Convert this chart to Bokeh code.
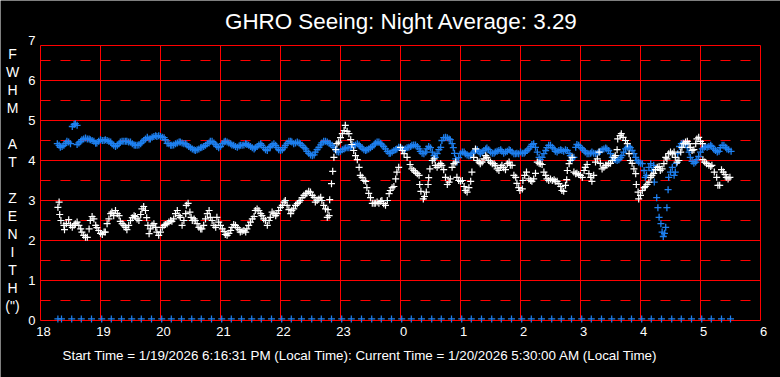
from bokeh.plotting import figure
from bokeh.models import Label, Range1d
from bokeh.core.properties import value
from bokeh.embed import file_html
from bokeh.resources import INLINE

title_text = "GHRO Seeing: Night Average: 3.29"
footer_text = ("Start Time = 1/19/2026 6:16:31 PM (Local Time): "
               "Current Time = 1/20/2026 5:30:00 AM (Local Time)")
axis_letters = ["F", "W", "H", "M", "", "A", "T", "", "Z", "E", "N", "I", "T", "H", "(\")"]

x_ticks = [18, 19, 20, 21, 22, 23, 24, 25, 26, 27, 28, 29, 30]
x_tick_labels = ["18", "19", "20", "21", "22", "23", "0", "1", "2", "3", "4", "5", "6"]
y_ticks = [0, 1, 2, 3, 4, 5, 6, 7]
grid_top = 6.875

# blue series (hours after midnight continue as 24+)
blue_t = [
    18.28, 18.31, 18.33, 18.36, 18.39, 18.42, 18.44, 18.47, 18.50, 18.53, 18.56, 18.58, 18.61, 18.61,
    18.64, 18.67, 18.69, 18.72, 18.75, 18.78, 18.81, 18.83, 18.86, 18.89, 18.92, 18.94, 18.97,
    19.00, 19.03, 19.06, 19.08, 19.11, 19.14, 19.17, 19.19, 19.22, 19.25, 19.28, 19.31, 19.33, 19.36,
    19.39, 19.42, 19.44, 19.47, 19.50, 19.53, 19.56, 19.58, 19.61, 19.64, 19.67, 19.69, 19.72, 19.75,
    19.78, 19.81, 19.83, 19.86, 19.89, 19.92, 19.94, 19.97,
    20.00, 20.03, 20.06, 20.08, 20.11, 20.14, 20.17, 20.19, 20.22, 20.25, 20.28, 20.31, 20.33, 20.36,
    20.39, 20.42, 20.44, 20.47, 20.50, 20.53, 20.56, 20.58, 20.61, 20.64, 20.67, 20.69, 20.72, 20.75,
    20.78, 20.81, 20.83, 20.86, 20.89, 20.92, 20.94, 20.97,
    21.00, 21.03, 21.06, 21.08, 21.11, 21.14, 21.17, 21.19, 21.22, 21.25, 21.28, 21.31, 21.33, 21.36,
    21.39, 21.42, 21.44, 21.47, 21.50, 21.53, 21.56, 21.58, 21.61, 21.64, 21.67, 21.69, 21.72, 21.75,
    21.78, 21.81, 21.83, 21.86, 21.89, 21.92, 21.94, 21.97,
    22.00, 22.03, 22.06, 22.08, 22.11, 22.14, 22.17, 22.19, 22.22, 22.25, 22.28, 22.31, 22.33, 22.36,
    22.39, 22.42, 22.44, 22.47, 22.50, 22.53, 22.56, 22.58, 22.61, 22.64, 22.67, 22.69, 22.72, 22.75,
    22.78, 22.81, 22.83, 22.86, 22.89, 22.92, 22.94, 22.97,
    23.00, 23.03, 23.06, 23.08, 23.11, 23.14, 23.17, 23.19, 23.22, 23.25, 23.28, 23.31, 23.33, 23.36,
    23.39, 23.42, 23.44, 23.47, 23.50, 23.53, 23.56, 23.58, 23.61, 23.64, 23.67, 23.69, 23.72, 23.75,
    23.78, 23.81, 23.83, 23.86, 23.89, 23.92, 23.94, 23.97,
    24.00, 24.03, 24.06, 24.08, 24.11, 24.14, 24.17, 24.19, 24.22, 24.25, 24.28, 24.31, 24.33, 24.36,
    24.39, 24.42, 24.44, 24.47, 24.50, 24.53, 24.56, 24.58, 24.61, 24.64, 24.67, 24.69, 24.72, 24.75,
    24.78, 24.81, 24.83, 24.86, 24.88, 24.90, 24.92, 24.94, 24.97,
    25.00, 25.03, 25.06, 25.08, 25.11, 25.14, 25.17, 25.19, 25.22, 25.25, 25.28, 25.31, 25.33, 25.36,
    25.39, 25.42, 25.44, 25.47, 25.50, 25.53, 25.56, 25.58, 25.61, 25.64, 25.67, 25.69, 25.72, 25.75,
    25.78, 25.81, 25.83, 25.86, 25.89, 25.92, 25.94, 25.97,
    26.00, 26.03, 26.06, 26.08, 26.11, 26.14, 26.17, 26.19, 26.22, 26.25, 26.28, 26.31, 26.33, 26.36,
    26.39, 26.42, 26.44, 26.47, 26.50, 26.53, 26.56, 26.58, 26.61, 26.64, 26.67, 26.69, 26.72, 26.75,
    26.78, 26.81, 26.83, 26.86, 26.89, 26.92, 26.94, 26.97,
    27.00, 27.03, 27.06, 27.08, 27.11, 27.14, 27.17, 27.19, 27.22, 27.25, 27.28, 27.31, 27.33, 27.36,
    27.39, 27.42, 27.44, 27.47, 27.50, 27.53, 27.56, 27.58, 27.61, 27.64, 27.67, 27.69, 27.72, 27.75,
    27.78, 27.81, 27.83, 27.86, 27.89, 27.92, 27.94, 27.97,
    28.00, 28.03, 28.06, 28.08, 28.10, 28.14, 28.17, 28.19, 28.22, 28.23, 28.27, 28.29, 28.31, 28.34,
    28.36, 28.38, 28.40, 28.42, 28.44, 28.46, 28.47, 28.50, 28.53, 28.56, 28.58, 28.60, 28.62, 28.65,
    28.68, 28.71, 28.75, 28.78, 28.81, 28.83, 28.86, 28.89, 28.92, 28.94, 28.97,
    29.00, 29.03, 29.06, 29.08, 29.11, 29.14, 29.17, 29.19, 29.22, 29.25, 29.28, 29.31, 29.33, 29.36,
    29.39, 29.42, 29.44, 29.47, 29.51,
]
blue_v = [
    4.42, 4.38, 4.33, 4.35, 4.38, 4.43, 4.48, 4.46, 4.42, 4.85, 4.90, 4.92, 4.88, 4.40,
    4.44, 4.48, 4.52, 4.54, 4.56, 4.54, 4.54, 4.52, 4.50, 4.48, 4.43, 4.44, 4.48,
    4.52, 4.50, 4.50, 4.52, 4.50, 4.48, 4.46, 4.42, 4.38, 4.35, 4.38, 4.42, 4.46, 4.48,
    4.48, 4.48, 4.48, 4.46, 4.46, 4.42, 4.39, 4.38, 4.38, 4.39, 4.42, 4.46, 4.50, 4.54,
    4.58, 4.54, 4.54, 4.58, 4.60, 4.62, 4.60, 4.62,
    4.60, 4.58, 4.57, 4.52, 4.43, 4.42, 4.38, 4.38, 4.39, 4.42, 4.44, 4.46, 4.46, 4.44,
    4.42, 4.42, 4.39, 4.35, 4.32, 4.29, 4.27, 4.25, 4.27, 4.29, 4.32, 4.33, 4.35, 4.38,
    4.42, 4.44, 4.48, 4.48, 4.44, 4.40, 4.35, 4.32,
    4.35, 4.42, 4.46, 4.48, 4.46, 4.44, 4.42, 4.39, 4.38, 4.35, 4.33, 4.36, 4.38, 4.38,
    4.39, 4.42, 4.40, 4.38, 4.35, 4.32, 4.29, 4.32, 4.35, 4.39, 4.42, 4.38, 4.32, 4.27,
    4.25, 4.32, 4.35, 4.39, 4.42, 4.38, 4.32, 4.27,
    4.25, 4.27, 4.32, 4.38, 4.43, 4.48, 4.48, 4.46, 4.42, 4.44, 4.46, 4.44, 4.42, 4.38,
    4.33, 4.29, 4.23, 4.18, 4.14, 4.12, 4.14, 4.21, 4.27, 4.33, 4.39, 4.44, 4.48, 4.48,
    4.46, 4.43, 4.42, 4.38, 4.33, 4.27, 4.22, 4.21,
    4.23, 4.27, 4.29, 4.31, 4.32, 4.32, 4.33, 4.35, 4.38, 4.39, 4.42, 4.39, 4.35, 4.31,
    4.27, 4.25, 4.27, 4.29, 4.32, 4.35, 4.39, 4.43, 4.46, 4.46, 4.43, 4.39, 4.35, 4.29,
    4.23, 4.18, 4.18, 4.21, 4.25, 4.27, 4.29, 4.33,
    4.32, 4.29, 4.27, 4.29, 4.32, 4.33, 4.35, 4.38, 4.39, 4.39, 4.35, 4.29, 4.23, 4.18,
    4.17, 4.21, 4.29, 4.35, 4.32, 4.21, 4.12, 4.08, 4.17, 4.27, 4.33, 4.50, 4.57, 4.58,
    4.57, 4.54, 4.52, 4.42, 4.32, 4.18, 4.04, 3.96, 4.07,
    4.17, 4.21, 4.21, 4.17, 4.14, 4.12, 4.12, 4.17, 4.21, 4.25, 4.27, 4.22, 4.17, 4.21,
    4.25, 4.29, 4.31, 4.27, 4.21, 4.18, 4.18, 4.21, 4.23, 4.25, 4.27, 4.23, 4.18, 4.21,
    4.23, 4.27, 4.25, 4.21, 4.17, 4.17, 4.18, 4.17,
    4.21, 4.18, 4.18, 4.21, 4.25, 4.29, 4.35, 4.40, 4.42, 4.33, 4.21, 4.08, 4.02, 4.08,
    4.17, 4.25, 4.32, 4.38, 4.38, 4.33, 4.29, 4.23, 4.21, 4.25, 4.27, 4.25, 4.23, 4.27,
    4.25, 4.18, 4.12, 4.04, 4.08, 4.33, 4.40, 4.38,
    4.33, 4.29, 4.25, 4.21, 4.17, 4.17, 4.18, 4.21, 4.18, 4.17, 4.18, 4.21, 4.23, 4.27,
    4.29, 4.31, 4.29, 4.25, 4.17, 4.08, 4.04, 4.02, 4.00, 4.02, 4.07, 4.12, 4.21, 4.29,
    4.33, 4.35, 4.32, 4.25, 4.17, 4.08, 4.00, 3.96,
    3.93, 3.92, 3.75, 3.58, 3.63, 3.83, 3.92, 3.75, 3.88, 3.46, 3.07, 2.82, 2.58, 2.42,
    2.21, 2.10, 2.18, 2.33, 2.82, 3.27, 3.58, 3.71, 3.83, 3.63, 3.71, 3.93, 4.17, 4.35,
    4.42, 4.44, 4.40, 4.32, 4.21, 4.08, 3.98, 3.93, 3.96, 4.02, 4.10,
    4.21, 4.29, 4.33, 4.35, 4.33, 4.35, 4.38, 4.35, 4.29, 4.25, 4.21, 4.23, 4.32, 4.38,
    4.38, 4.33, 4.29, 4.27, 4.23,
]

# white series
white_t = [
    18.29, 18.31, 18.32, 18.34, 18.39, 18.40, 18.43, 18.47, 18.50, 18.53, 18.56, 18.58, 18.61, 18.64,
    18.67, 18.69, 18.72, 18.75, 18.78, 18.81, 18.83, 18.86, 18.89, 18.92, 18.94, 18.97,
    19.00, 19.03, 19.06, 19.08, 19.11, 19.14, 19.17, 19.19, 19.22, 19.25, 19.28, 19.31, 19.33, 19.36,
    19.39, 19.42, 19.44, 19.47, 19.50, 19.53, 19.56, 19.58, 19.61, 19.64, 19.67, 19.69, 19.72, 19.75,
    19.77, 19.79, 19.81, 19.83, 19.86, 19.89, 19.92, 19.94, 19.97,
    20.00, 20.03, 20.06, 20.08, 20.11, 20.14, 20.17, 20.19, 20.22, 20.25, 20.28, 20.31, 20.33, 20.36,
    20.39, 20.42, 20.43, 20.46, 20.49, 20.51, 20.53, 20.56, 20.58, 20.61, 20.64, 20.67, 20.69, 20.72,
    20.75, 20.78, 20.81, 20.83, 20.86, 20.89, 20.92, 20.94, 20.97,
    21.00, 21.03, 21.06, 21.08, 21.11, 21.14, 21.17, 21.19, 21.22, 21.25, 21.28, 21.31, 21.33, 21.36,
    21.39, 21.42, 21.44, 21.47, 21.50, 21.53, 21.56, 21.58, 21.61, 21.64, 21.67, 21.69, 21.72, 21.75,
    21.78, 21.81, 21.83, 21.86, 21.89, 21.92, 21.94, 21.97,
    22.00, 22.03, 22.06, 22.08, 22.11, 22.14, 22.17, 22.19, 22.22, 22.25, 22.28, 22.31, 22.33, 22.36,
    22.39, 22.42, 22.44, 22.47, 22.50, 22.53, 22.56, 22.58, 22.61, 22.64, 22.67, 22.69, 22.72, 22.75,
    22.78, 22.79, 22.81, 22.82, 22.85, 22.87, 22.89, 22.92, 22.94, 22.97,
    23.00, 23.03, 23.06, 23.08, 23.11, 23.14, 23.17, 23.19, 23.22, 23.25, 23.28, 23.31, 23.33, 23.36,
    23.39, 23.42, 23.44, 23.47, 23.50, 23.53, 23.56, 23.58, 23.61, 23.64, 23.67, 23.69, 23.72, 23.75,
    23.78, 23.81, 23.83, 23.86, 23.89, 23.92, 23.94, 23.97,
    24.00, 24.03, 24.06, 24.11, 24.16, 24.19, 24.22, 24.25, 24.28, 24.31, 24.32, 24.34, 24.38, 24.40,
    24.43, 24.46, 24.47, 24.49, 24.53, 24.56, 24.58, 24.61, 24.64, 24.67, 24.69, 24.72, 24.75, 24.78,
    24.81, 24.83, 24.86, 24.89, 24.92, 24.94, 24.97,
    25.00, 25.03, 25.06, 25.08, 25.11, 25.14, 25.17, 25.19, 25.22, 25.25, 25.28, 25.31, 25.33, 25.36,
    25.39, 25.42, 25.44, 25.47, 25.50, 25.53, 25.56, 25.58, 25.61, 25.64, 25.67, 25.69, 25.72, 25.75,
    25.78, 25.81, 25.83, 25.86, 25.89, 25.92, 25.94, 25.97, 25.99,
    26.03, 26.04, 26.07, 26.10, 26.14, 26.17, 26.19, 26.22, 26.25, 26.28, 26.31, 26.33, 26.36, 26.39,
    26.42, 26.44, 26.47, 26.50, 26.53, 26.56, 26.58, 26.61, 26.64, 26.67, 26.69, 26.72, 26.75, 26.77,
    26.78, 26.81, 26.83, 26.86, 26.89, 26.92, 26.94, 26.97,
    27.00, 27.03, 27.06, 27.08, 27.11, 27.14, 27.17, 27.19, 27.22, 27.25, 27.28, 27.31, 27.33, 27.36,
    27.39, 27.42, 27.44, 27.47, 27.50, 27.53, 27.56, 27.58, 27.61, 27.62, 27.66, 27.68, 27.71, 27.75,
    27.78, 27.81, 27.83, 27.86, 27.89, 27.92, 27.93, 27.96, 27.97,
    28.00, 28.03, 28.06, 28.08, 28.11, 28.14, 28.17, 28.19, 28.22, 28.25, 28.28, 28.31, 28.33, 28.36,
    28.39, 28.42, 28.44, 28.47, 28.50, 28.53, 28.56, 28.58, 28.61, 28.64, 28.67, 28.69, 28.72, 28.75,
    28.78, 28.81, 28.83, 28.86, 28.89, 28.92, 28.94, 28.97,
    29.00, 29.03, 29.04, 29.07, 29.10, 29.14, 29.17, 29.19, 29.23, 29.27, 29.29, 29.32, 29.35, 29.38,
    29.41, 29.43, 29.46, 29.49,
]
white_v = [
    2.83, 2.96, 2.65, 2.50, 2.38, 2.27, 2.42, 2.52, 2.38, 2.33, 2.38, 2.42, 2.46, 2.38,
    2.29, 2.21, 2.13, 2.08, 2.08, 2.29, 2.50, 2.60, 2.54, 2.38, 2.32, 2.25,
    2.18, 2.15, 2.21, 2.21, 2.42, 2.54, 2.67, 2.71, 2.62, 2.75, 2.67, 2.62, 2.48, 2.42,
    2.38, 2.33, 2.27, 2.38, 2.50, 2.57, 2.62, 2.60, 2.54, 2.50, 2.65, 2.79, 2.85, 2.75,
    2.57, 2.38, 2.17, 2.29, 2.38, 2.42, 2.33, 2.21, 2.13,
    2.21, 2.33, 2.38, 2.40, 2.42, 2.46, 2.50, 2.48, 2.54, 2.67, 2.75, 2.62, 2.58, 2.38,
    2.50, 2.67, 2.88, 2.93, 2.71, 2.58, 2.50, 2.54, 2.50, 2.42, 2.33, 2.29, 2.29, 2.38,
    2.54, 2.67, 2.75, 2.58, 2.50, 2.38, 2.33, 2.58, 2.46,
    2.38, 2.29, 2.23, 2.15, 2.13, 2.18, 2.25, 2.33, 2.40, 2.38, 2.32, 2.27, 2.21, 2.23,
    2.25, 2.21, 2.29, 2.38, 2.46, 2.54, 2.60, 2.75, 2.79, 2.75, 2.67, 2.62, 2.54, 2.50,
    2.38, 2.50, 2.58, 2.71, 2.67, 2.62, 2.67, 2.75,
    2.83, 2.88, 2.96, 3.00, 2.88, 2.77, 2.67, 2.75, 2.79, 2.88, 2.92, 2.96, 3.00, 3.07,
    3.13, 3.17, 3.18, 3.23, 3.21, 3.13, 3.08, 2.96, 3.00, 3.04, 3.08, 3.00, 2.88, 2.79,
    2.58, 2.77, 2.62, 3.02, 3.42, 3.73, 4.08, 4.27, 4.42, 4.46,
    4.57, 4.67, 4.75, 4.88, 4.73, 4.67, 4.52, 4.40, 4.25, 4.12, 4.02, 3.83, 3.63, 3.58,
    3.50, 3.48, 3.32, 3.18, 3.07, 2.93, 2.93, 2.93, 2.96, 2.93, 2.98, 3.00, 2.92, 2.88,
    3.00, 3.17, 3.25, 3.32, 3.35, 3.54, 3.71, 3.83,
    4.33, 4.25, 4.17, 4.08, 3.90, 3.79, 3.75, 3.71, 3.67, 3.63, 3.40, 3.23, 3.04, 3.10,
    3.21, 3.40, 3.57, 3.79, 4.00, 4.04, 3.88, 3.83, 3.88, 3.92, 3.88, 3.77, 3.58, 3.40,
    3.46, 3.54, 3.83, 3.92, 3.96, 3.58, 3.50,
    3.48, 3.50, 3.35, 3.25, 3.21, 3.32, 3.48, 3.71, 4.08, 4.29, 4.00, 3.96, 3.92, 3.96,
    4.04, 4.12, 4.08, 4.00, 3.96, 3.92, 3.92, 3.88, 3.79, 3.75, 3.83, 3.88, 3.82, 3.77,
    3.92, 3.96, 3.88, 3.88, 3.63, 3.58, 3.43, 3.32, 3.25,
    3.29, 3.50, 3.63, 3.71, 3.54, 3.50, 3.48, 3.54, 3.68, 3.96, 3.93, 3.92, 3.90, 3.71,
    3.63, 3.54, 3.50, 3.54, 3.50, 3.52, 3.48, 3.48, 3.42, 3.35, 3.25, 3.23, 3.38, 3.52,
    3.75, 3.92, 4.00, 4.08, 3.71, 3.67, 3.68, 3.65,
    3.63, 3.58, 3.75, 3.83, 3.90, 3.67, 3.58, 3.48, 3.63, 3.96, 4.04, 4.21, 3.93, 3.79,
    3.83, 3.88, 3.88, 3.92, 3.93, 4.00, 4.08, 4.12, 4.27, 4.54, 4.62, 4.67, 4.58, 4.50,
    4.42, 4.17, 4.00, 3.93, 3.79, 3.67, 3.40, 3.21, 3.04,
    3.13, 3.25, 3.32, 3.35, 3.40, 3.46, 3.58, 3.63, 3.68, 3.77, 3.83, 3.85, 3.75, 3.79,
    3.92, 4.08, 4.04, 4.17, 4.21, 4.17, 4.21, 4.08, 3.96, 4.00, 4.21, 4.33, 4.42, 4.46,
    4.48, 4.42, 4.33, 4.25, 4.27, 4.42, 4.54, 4.58,
    4.48, 4.42, 4.02, 3.96, 3.92, 3.88, 3.85, 3.88, 3.71, 3.58, 3.38, 3.38, 3.77, 3.71,
    3.65, 3.58, 3.54, 3.58,
]

# readings logged as zero along the bottom
zero_t = [
    18.29, 18.35, 18.52, 18.68, 18.85,
    19.02, 19.18, 19.35, 19.52, 19.68, 19.85,
    20.02, 20.18, 20.35, 20.52, 20.68, 20.85,
    21.02, 21.18, 21.35, 21.52, 21.68, 21.85,
    22.02, 22.18, 22.35, 22.52, 22.68, 22.85,
    23.02, 23.18, 23.35, 23.52, 23.68, 23.85,
    24.02, 24.18, 24.35, 24.52, 24.68, 24.85,
    25.02, 25.18, 25.35, 25.52, 25.68, 25.85,
    26.02, 26.18, 26.35, 26.52, 26.68, 26.85,
    27.02, 27.18, 27.35, 27.52, 27.68, 27.85,
    28.02, 28.18, 28.35, 28.52, 28.68, 28.85,
    29.02, 29.18, 29.35, 29.50,
]
zero_v = [0.04] * len(zero_t)

BLUE = "#1e80f0"
RED = "#ff0000"
FONT = "Liberation Sans"

W, H = 780, 377
PX_X = 1 / 60   # hours per pixel
PX_Y = 1 / 40   # FWHM units per pixel


def x_at(page_x):
    return 18 + (page_x - 40) * PX_X


def y_at(page_y):
    return (320 - page_y) * PX_Y


# the frame fills the whole canvas so every text can sit inside it
p = figure(width=W, height=H,
           x_range=Range1d(x_at(0), x_at(W)), y_range=Range1d(y_at(H), y_at(0)),
           output_backend="svg", toolbar_location=None,
           min_border=0, x_axis_location=None, y_axis_location=None,
           background_fill_color="black", border_fill_color="black", outline_line_color=None)
p.grid.visible = False

# grid
solid_y = [y for y in y_ticks if y <= grid_top]
dash_y = [y + 0.5 for y in y_ticks if y + 0.5 < grid_top]
p.segment(x0=[18] * len(solid_y), x1=[30] * len(solid_y), y0=solid_y, y1=solid_y,
          line_color=RED, line_width=1)
p.segment(x0=[18], x1=[30], y0=[grid_top], y1=[grid_top], line_color=RED, line_width=1)
p.segment(x0=[18] * len(dash_y), x1=[30] * len(dash_y), y0=dash_y, y1=dash_y,
          line_color=RED, line_width=1, line_dash="10 10")
p.segment(x0=x_ticks, x1=x_ticks, y0=[0] * len(x_ticks), y1=[grid_top] * len(x_ticks),
          line_color=RED, line_width=1)

# data
p.scatter(blue_t, blue_v, marker="cross", size=7, line_color=BLUE, line_width=1.3)
p.scatter(zero_t, zero_v, marker="cross", size=7, line_color=BLUE, line_width=1.2)
p.scatter(white_t, white_v, marker="cross", size=7, line_color="white", line_width=1.2)

# tick labels
p.text(x=x_ticks, y=[y_at(331)] * len(x_ticks), text=x_tick_labels, x_offset=3,
       text_color="white", text_font=value(FONT), text_font_size="13px",
       text_align="center", text_baseline="middle")
p.text(x=[x_at(35)] * len(y_ticks), y=y_ticks, text=[str(t) for t in y_ticks],
       text_color="white", text_font=value(FONT), text_font_size="13px",
       text_align="right", text_baseline="middle")

# title, footer, vertical axis caption
p.add_layout(Label(x=x_at(401), y=y_at(21), text=title_text, text_color="white",
                   text_font=FONT, text_font_size="22.4px", text_align="center",
                   text_baseline="middle"))
p.add_layout(Label(x=x_at(62), y=y_at(355), text=footer_text, text_color="white",
                   text_font=FONT, text_font_size="13.4px", text_align="left",
                   text_baseline="middle"))
for i, ch in enumerate(axis_letters):
    if ch:
        p.add_layout(Label(x=x_at(12), y=y_at(53 + 18 * i), text=ch, text_color="white",
                           text_font=FONT, text_font_size="14px", text_align="center",
                           text_baseline="middle"))

open("out.html", "w").write(file_html(p, INLINE))
